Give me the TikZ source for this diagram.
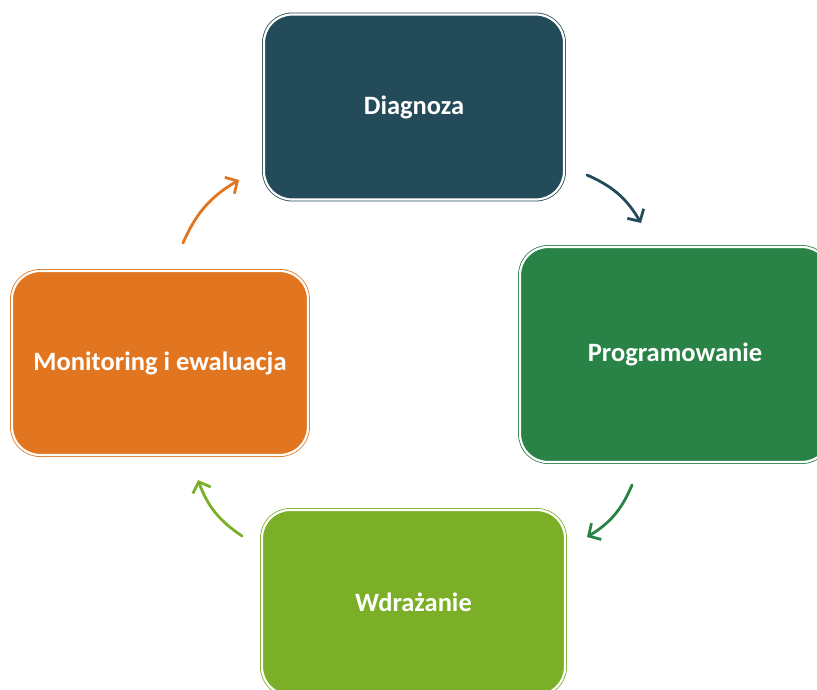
\documentclass[tikz,border=0pt]{standalone}
\usepackage{fontspec}
\setmainfont{Carlito}
\usetikzlibrary{arrows.meta}
\definecolor{cDiag}{HTML}{244B5A}
\definecolor{cProg}{HTML}{2A8346}
\definecolor{cWdr}{HTML}{7AAF27}
\definecolor{cMon}{HTML}{E27620}
\tikzset{
  stagebox/.style={draw=#1, fill=#1, double=white, double distance=2.2pt, line width=0.8pt,
    rounded corners=28pt, text=white, font=\fontsize{26.5}{30}\selectfont\bfseries, align=center,
    inner sep=0pt},
  cyclearrow/.style={draw=#1, line width=2.8pt, line cap=round,
    -{Straight Barb[length=9pt,width=19pt,line width=2.8pt]}, bend left=18}
}
\begin{document}
\begin{tikzpicture}[x=1pt,y=1pt]
\useasboundingbox (0,0) rectangle (817,689);
\clip (0,0) rectangle (817,689);
\node[stagebox=cDiag, minimum width=300pt, minimum height=185pt] (diag) at (414,582) {Diagnoza};
\node[stagebox=cProg, minimum width=310pt, minimum height=215pt] (prog) at (675,334.5) {Programowanie};
\node[stagebox=cWdr, minimum width=303pt, minimum height=185pt] (wdr) at (413.5,86.5) {Wdrażanie};
\node[stagebox=cMon, minimum width=296pt, minimum height=184pt] (mon) at (160,326) {Monitoring i ewaluacja};
\coordinate (a1s) at (587,514); \coordinate (a1e) at (641,466);
\coordinate (a2s) at (632,204); \coordinate (a2e) at (587,152);
\coordinate (a3s) at (242,153); \coordinate (a3e) at (198,209);
\coordinate (a4s) at (183,446); \coordinate (a4e) at (239,509);
\draw[cyclearrow=cDiag] (a1s) to (a1e);
\draw[cyclearrow=cProg] (a2s) to (a2e);
\draw[cyclearrow=cWdr] (a3s) to (a3e);
\draw[cyclearrow=cMon] (a4s) to (a4e);
\end{tikzpicture}
\end{document}
